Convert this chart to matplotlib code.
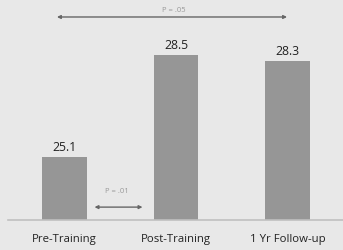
import matplotlib.pyplot as plt

categories = ["Pre-Training", "Post-Training", "1 Yr Follow-up"]
values = [25.1, 28.5, 28.3]
value_labels = ["25.1", "28.5", "28.3"]

bg = "#e8e8e8"
bar_color = "#969696"

fig = plt.figure(figsize=(3.43, 2.51), dpi=100, facecolor=bg)
ax = fig.add_axes([0.023, 0.1195, 0.977, 0.8805], facecolor=bg)

x = range(len(categories))
ax.bar(x, values, width=0.4, color=bar_color, bottom=0)
ax.set_ylim(23.0, 30.37)
ax.set_xlim(-0.507, 2.498)

# value labels above bars
for i, (v, lab) in enumerate(zip(values, value_labels)):
    ax.text(i, v + 0.15, lab, ha="center", va="bottom", fontsize=8.8,
            family="Open Sans", color="#222222")

# significance arrows
arrow_kw = dict(arrowstyle="<|-|>", color="#666666", lw=1.0,
                mutation_scale=5, shrinkA=0, shrinkB=0)
ax.annotate("", xy=(-0.067, 29.77), xytext=(1.996, 29.77), arrowprops=arrow_kw)
ax.text(0.98, 30.03, "P = .05", ha="center", va="center", fontsize=5.5,
        family="Open Sans", color="#999999")
ax.annotate("", xy=(0.27, 23.43), xytext=(0.70, 23.43), arrowprops=arrow_kw)
ax.text(0.47, 23.97, "P = .01", ha="center", va="center", fontsize=5.5,
        family="Open Sans", color="#999999")

ax.set_xticks(list(x))
ax.set_xticklabels(categories, fontsize=8.2, family="Open Sans", color="#222222")
ax.tick_params(axis="x", length=0, pad=9)
ax.set_yticks([])
for side in ["top", "right", "left"]:
    ax.spines[side].set_visible(False)
ax.spines["bottom"].set_color("#c0c0c0")
ax.spines["bottom"].set_linewidth(1.2)

fig.savefig("out.png", dpi=100, facecolor=bg)
